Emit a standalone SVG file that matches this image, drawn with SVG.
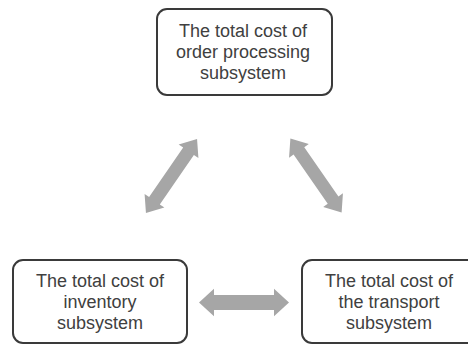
<svg xmlns="http://www.w3.org/2000/svg" xmlns:xlink="http://www.w3.org/1999/xlink" width="468" height="345" viewBox="0 0 468 345">
<style>
.box{fill:#fff;stroke:#3a3a3a;stroke-width:2}
.lbl{font-family:"Liberation Sans",Arial,sans-serif;font-size:18px;fill:#404040;text-anchor:middle}
.arr{fill:#a6a6a6}
</style>
<defs>
<polygon id="dbl" points="-45,0 -30,-12 -30,-6.5 30,-6.5 30,-12 45,0 30,12 30,6.5 -30,6.5 -30,12"/>
</defs>
<rect width="468" height="345" fill="#fff"/>
<g id="connectors" class="arr">
<use xlink:href="#dbl" transform="translate(171.5,176) rotate(-55.4)"/>
<use xlink:href="#dbl" transform="translate(316,175.5) rotate(55.3)"/>
<use xlink:href="#dbl" transform="translate(244,302.5) scale(1,1.15)"/>
</g>
<g id="order">
<rect class="box" x="157" y="9" width="175" height="86" rx="10"/>
<text class="lbl" x="243" y="37">The total cost of</text>
<text class="lbl" x="243" y="58">order processing</text>
<text class="lbl" x="243" y="79">subsystem</text>
</g>
<g id="inventory">
<rect class="box" x="13" y="260" width="174" height="83" rx="10"/>
<text class="lbl" x="100" y="287">The total cost of</text>
<text class="lbl" x="100" y="308">inventory</text>
<text class="lbl" x="100" y="329">subsystem</text>
</g>
<g id="transport">
<rect class="box" x="302" y="260" width="176" height="83" rx="10"/>
<text class="lbl" x="389" y="287">The total cost of</text>
<text class="lbl" x="389" y="308">the transport</text>
<text class="lbl" x="389" y="329">subsystem</text>
</g>
</svg>
